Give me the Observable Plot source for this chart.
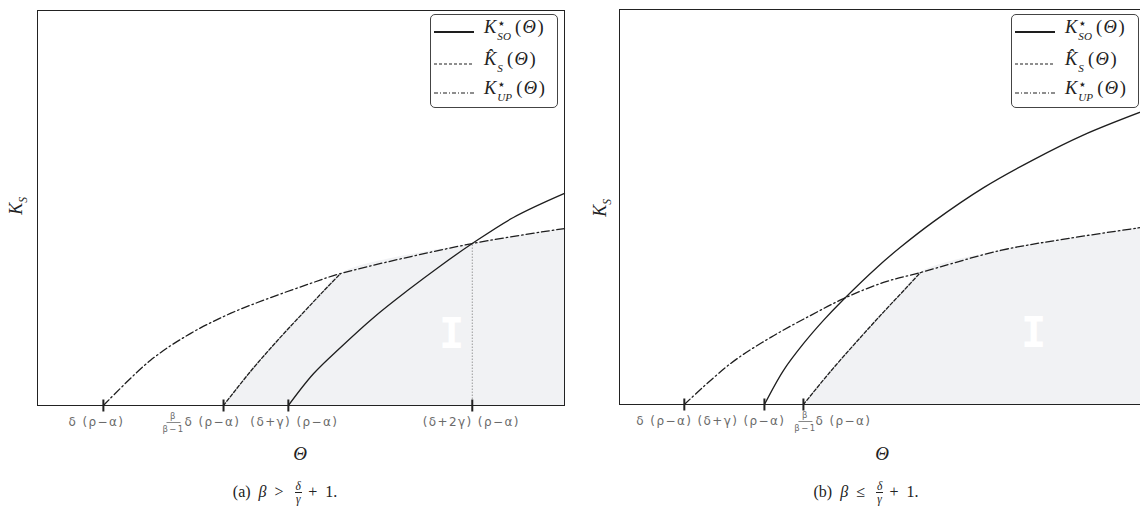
<!DOCTYPE html>
<html><head><meta charset="utf-8">
<script src="https://cdn.jsdelivr.net/npm/d3@7"></script>
<script src="https://cdn.jsdelivr.net/npm/@observablehq/plot@0.6"></script>
<style>
html,body{margin:0;padding:0;background:#fff;overflow:hidden;width:1140px;height:511px;}
#wrap{position:relative;width:1140px;height:511px;overflow:hidden;}
.panel{position:absolute;top:0;}
.math{font-family:"Liberation Serif","DejaVu Serif",serif;color:#222;position:absolute;white-space:nowrap;}
.ss{display:inline-block;vertical-align:-0.62em;line-height:1.18;font-size:0.6em;margin-left:1px;text-align:left;}
.ss span{display:block;}
.ss .st{font-size:1.3em;line-height:0.9;}
.legend{position:absolute;border:1px solid #444;border-radius:5px;background:#fff;width:126px;height:92px;}
.row{position:absolute;left:3px;height:20px;}
.row svg{position:absolute;left:0;top:0;}
.row .math{left:50px;top:-5px;font-size:18.5px;}
.par{letter-spacing:1.5px;margin-left:4px;}
.frac{display:inline-block;vertical-align:-0.55em;text-align:center;font-size:0.72em;line-height:1.05;margin:0 3px;}
.frac span{display:block;}
.frac span.num{border-bottom:0.8px solid #222;padding:0 1px;}
</style></head>
<body><div id="wrap"></div>
<script>
// ---------- data (θ and K_S in arbitrary units, 0–100) ----------
const kUpA  = [[12.5,0],[21.4,11.4],[29.0,18.2],[36.6,23.3],[44.2,27.3],[51.8,30.9],[57.5,33.4],[82.5,41.0],[100,44.8]];
const kHatA = [[35.3,0],[40.4,8.6],[45.5,16.4],[50.5,23.6],[54.3,29.0],[57.5,33.4]];
const kSoA  = [[47.6,0],[52.4,8.1],[57.5,14.7],[63.8,22.3],[70.2,29.1],[76.5,35.4],[82.5,41.0],[90.3,47.6],[100,53.7]];
const ticksA = [12.5, 35.3, 47.6, 82.5];
const tickLabelsA = ["δ (ρ−α)", {num:"β", den:"β−1", rest:"δ (ρ−α)"}, "(δ+γ) (ρ−α)", "(δ+2γ) (ρ−α)"];

const kUpB  = [[12.3,0],[21.1,10.4],[28.7,17.0],[36.2,22.5],[42.5,26.8],[50.1,30.9],[57.1,33.4],[72.3,39.0],[85.0,42.0],[100,45.0]];
const kHatB = [[34.9,0],[40.0,8.3],[45.2,16.2],[50.1,23.4],[53.9,28.8],[57.1,33.4]];
const kSoB  = [[27.5,0],[31.1,8.6],[34.9,15.4],[38.7,21.3],[42.5,26.6],[49.0,34.9],[53.3,39.8],[59.6,46.3],[69.1,54.9],[78.6,62.0],[88.0,68.2],[100,74.6]];
const ticksB = [12.3, 27.5, 34.9];
const tickLabelsB = ["δ (ρ−α)", "(δ+γ) (ρ−α)", {num:"β", den:"β−1", rest:"δ (ρ−α)"}];

const regionLabel = [{x:78.7, y:18, text:"I"}];
// -----------------------------------------------------------------

const vbar = {draw(ctx){ ctx.moveTo(0,-6); ctx.lineTo(0,6); }};
const hbar = {draw(ctx){ ctx.moveTo(-7,0); ctx.lineTo(7,0); }};
const LBL = {fontFamily:"DejaVu Sans", fontSize:12, fill:"#6a6a6a"};

function makePanel({up, hat, so, ticks, labels, dxs, marginTop, marginBottom, dottedTick}) {
  const hatEnd = hat[hat.length-1][0];
  const shade = hat.concat(up.filter(p => p[0] > hatEnd));
  const marks = [
    Plot.areaY(shade, {x:d=>d[0], y:d=>d[1], fill:"#f1f2f4", curve:"catmull-rom"}),
  ];
  if (dottedTick != null) {
    const top = up.find(p => p[0] === dottedTick)[1];
    marks.push(Plot.ruleX([dottedTick], {x:d=>d, y1:0, y2:top, stroke:"#9a9a9a", strokeWidth:1, strokeDasharray:"1.5,1.5"}));
  }
  marks.push(
    Plot.text(regionLabel, {x:"x", y:"y", text:"text", fill:"#fff", fontFamily:"DejaVu Sans Mono", fontWeight:"bold", fontSize:42}),
    Plot.line(hat, {x:d=>d[0], y:d=>d[1], stroke:"#1e1e1e", strokeWidth:1.3, strokeDasharray:"3.5,2", curve:"catmull-rom"}),
    Plot.line(up,  {x:d=>d[0], y:d=>d[1], stroke:"#1e1e1e", strokeWidth:1.3, strokeDasharray:"8,3,1.5,3", curve:"catmull-rom"}),
    Plot.line(so,  {x:d=>d[0], y:d=>d[1], stroke:"#1e1e1e", strokeWidth:1.3, curve:"catmull-rom"}),
    Plot.frame({stroke:"#222", strokeWidth:1}),
    Plot.dot(ticks, {x:d=>d, y:()=>0, symbol:vbar, stroke:"#222", strokeWidth:2, fill:"none", r:6})
  );
  labels.forEach((lab, i) => {
    const t = ticks[i], dx = dxs[i];
    if (typeof lab === "string") {
      marks.push(Plot.text([t], {x:d=>d, y:()=>0, text:()=>lab, dx:dx, dy:17, ...LBL}));
    } else {
      marks.push(
        Plot.text([t], {x:d=>d, y:()=>0, text:()=>lab.num, dx:dx[0], dy:11, ...LBL, fontSize:8.5}),
        Plot.dot([t], {x:d=>d, y:()=>0, symbol:hbar, dx:dx[0], dy:17, stroke:"#6a6a6a", strokeWidth:0.8, fill:"none"}),
        Plot.text([t], {x:d=>d, y:()=>0, text:()=>lab.den, dx:dx[0], dy:24, ...LBL, fontSize:8.5}),
        Plot.text([t], {x:d=>d, y:()=>0, text:()=>lab.rest, dx:dx[1], dy:17, textAnchor:"start", ...LBL})
      );
    }
  });
  return Plot.plot({
    width:570, height:440,
    marginLeft:37, marginRight:6, marginTop, marginBottom,
    x:{domain:[0,100], axis:null},
    y:{domain:[0,100], axis:null},
    style:{background:"transparent", overflow:"visible", letterSpacing:"1.4px"},
    marks
  });
}

const wrap = document.getElementById("wrap");

const pA = makePanel({up:kUpA, hat:kHatA, so:kSoA, ticks:ticksA, labels:tickLabelsA,
  dxs:[-7, [-50,-39], 6, -1], marginTop:10, marginBottom:35, dottedTick:ticksA[3]});
pA.classList.add("panel"); pA.style.left = "0px";
wrap.appendChild(pA);

const pB = makePanel({up:kUpB, hat:kHatB, so:kSoB, ticks:ticksB, labels:tickLabelsB,
  dxs:[-20, -23, [2,12]], marginTop:9, marginBottom:36, dottedTick:null});
pB.classList.add("panel"); pB.style.left = "582px";
wrap.appendChild(pB);

// ---------- HTML text: legends, axis labels, captions ----------
function legendHTML(left) {
  const rows = [
    {top:7,  dash:"none", tex:'<i>K</i><span class="ss"><span class="st">⋆</span><span><i>SO</i></span></span><span class="par">(<i>Θ</i>)</span>'},
    {top:39, dash:"3,2",  tex:'<i>K̂</i><span class="ss"><span class="st">&nbsp;</span><span><i>S</i></span></span><span class="par">(<i>Θ</i>)</span>'},
    {top:68, dash:"4,2,1,2", tex:'<i>K</i><span class="ss"><span class="st">⋆</span><span><i>UP</i></span></span><span class="par">(<i>Θ</i>)</span>'}
  ];
  let h = `<div class="legend" style="left:${left}px;top:14px;">`;
  for (const r of rows) {
    h += `<div class="row" style="top:${r.top}px;"><svg width="44" height="20"><line x1="0" x2="40" y1="10" y2="10" stroke="#1e1e1e" stroke-width="${r.dash==="none"?1.8:1.2}" ${r.dash==="none"?"":`stroke-dasharray="${r.dash}"`}/></svg><span class="math">${r.tex}</span></div>`;
  }
  return h + "</div>";
}
function ylabel(cx, cy) {
  return `<div class="math" style="left:${cx-15}px;top:${cy-11}px;width:30px;text-align:center;font-size:18px;transform:rotate(-90deg);"><i>K</i><sub style="font-size:0.65em;"><i>S</i></sub></div>`;
}
function xlabel(cx, cy) {
  return `<div class="math" style="left:${cx-20}px;top:${cy-12}px;width:40px;text-align:center;font-size:19px;"><i>Θ</i></div>`;
}
function caption(cx, cy, letter, rel) {
  return `<div class="math" style="left:${cx-120}px;top:${cy-12}px;width:240px;text-align:center;font-size:16px;word-spacing:2px;">(${letter})&ensp;<i>β</i>&ensp;${rel}&ensp;<span class="frac"><span class="num"><i>δ</i></span><span><i>γ</i></span></span>&thinsp;+&ensp;1.</div>`;
}
wrap.insertAdjacentHTML("beforeend",
  legendHTML(430) + legendHTML(1011) +
  ylabel(18, 205) + ylabel(602, 207) +
  xlabel(300, 455) + xlabel(882, 455) +
  caption(285, 492, "a", "&gt;") + caption(866, 492, "b", "≤"));
</script>
</body></html>
